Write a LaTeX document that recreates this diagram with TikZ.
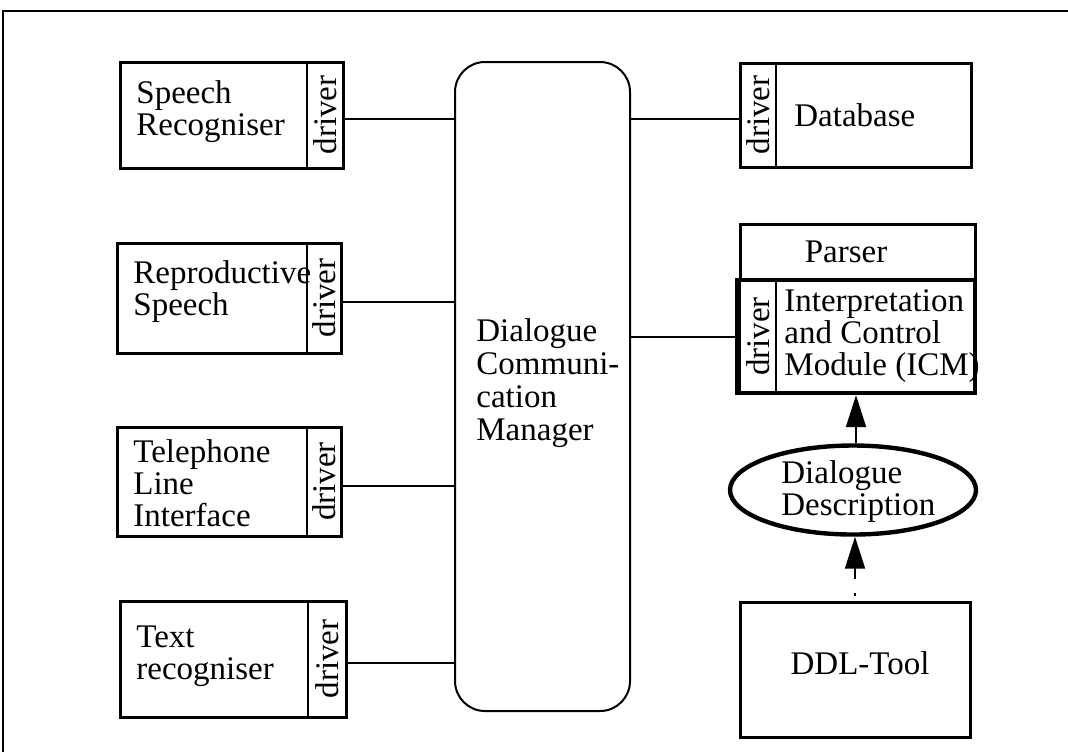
\documentclass[tikz,border=0pt]{standalone}
\usepackage{fontspec}
\setmainfont{Liberation Serif}
\usetikzlibrary{arrows.meta,shapes.geometric}

\tikzset{
  modbox/.style={draw, line width=1.5pt, inner sep=0pt},
  drvbox/.style={draw, line width=0.9pt, rotate=90, inner sep=0pt},
  lbl/.style={inner sep=0pt, align=left, anchor=west},
  link/.style={line width=1pt},
  flow/.style={line width=1pt, -{Triangle[length=16pt,width=10pt]}}
}

\begin{document}
\begin{tikzpicture}[x=0.5pt, y=-0.5pt, font=\fontsize{16.5}{16}\selectfont]

\useasboundingbox (0,0) rectangle (1068,752);
\draw [line width=1pt] (3,752) -- (3,11) -- (1068,11);

% left hand modules
\node[modbox, minimum width=111.5pt, minimum height=53pt] (sr) at (231.5,115) {};
\node[drvbox, minimum width=53pt, minimum height=18pt] (srd) at (325,115) {driver};
\node[lbl] (srl) at (136,112) {Speech\\Recogniser};

\node[modbox, minimum width=112pt, minimum height=55pt] (rs) at (229,298) {};
\node[drvbox, minimum width=55pt, minimum height=17pt] (rsd) at (324,298) {driver};
\node[lbl] (rsl) at (133,292) {Reproductive\\Speech};

\node[modbox, minimum width=112pt, minimum height=54.5pt] (tl) at (229,481.5) {};
\node[drvbox, minimum width=54.5pt, minimum height=17pt] (tld) at (324,481.5) {driver};
\node[lbl] (tll) at (133,483) {Telephone\\Line\\Interface};

\node[modbox, minimum width=113pt, minimum height=58pt] (tr) at (233,659) {};
\node[drvbox, minimum width=58pt, minimum height=19pt] (trd) at (327,659) {driver};
\node[lbl] (trl) at (136,656) {Text\\recogniser};

% communication manager
\node[draw, line width=1pt, rounded corners=15pt, minimum width=87.5pt, minimum height=324.5pt] (dcm) at (542.5,386.5) {};
\node[lbl, font=\fontsize{16.5}{16.5}\selectfont] (dcml) at (476,383) {Dialogue\\Communi-\\cation\\Manager};

% right hand modules
\node[modbox, minimum width=115.5pt, minimum height=52pt] (db) at (855.5,115) {};
\node[drvbox, minimum width=52pt, minimum height=18pt] (dbd) at (758,115) {driver};
\node[lbl] (dbl) at (794,115) {Database};

\node[modbox, minimum width=117.5pt, minimum height=28pt] (ps) at (857.5,252) {};
\node (psl) at (846,252) {Parser};

\node[drvbox, minimum width=56.5pt, minimum height=18pt] (icmd) at (758,336.5) {driver};
\node[modbox, line width=2.2pt, minimum width=119pt, minimum height=56.5pt] (icm) at (856,336.5) {};
\node[lbl] (icml) at (784,336) {Interpretation\\and Control\\Module (ICM)};

\node[draw, ellipse, line width=2.2pt, inner sep=0pt, minimum width=123pt, minimum height=44.5pt] (dd) at (853,490) {};
\node[lbl] (ddl) at (781,492) {Dialogue\\Description};

\node[modbox, minimum width=115pt, minimum height=67.5pt] (tool) at (855,669.5) {};
\node (tooll) at (860,663) {DDL-Tool};

% connections
\draw[link] ([yshift=-2pt]sr.east) -- ([yshift=-2pt]sr.east -| dcm.west);
\draw[link] ([yshift=-2pt]rs.east) -- ([yshift=-2pt]rs.east -| dcm.west);
\draw[link] ([yshift=-2pt]tl.east) -- ([yshift=-2pt]tl.east -| dcm.west);
\draw[link] ([yshift=-2pt]tr.east) -- ([yshift=-2pt]tr.east -| dcm.west);
\draw[link] ([yshift=-2pt]db.west -| dcm.east) -- ([yshift=-2pt]db.west);
\draw[link] (icm.west -| dcm.east) -- (icm.west);

\draw[flow] (icm.south |- dd.north) -- (icm.south);
\draw[flow, dash pattern=on 1.5pt off 7pt on 30pt off 2.5pt, dash phase=38.5pt] (tool.north) -- (tool.north |- dd.south);

\end{tikzpicture}
\end{document}
